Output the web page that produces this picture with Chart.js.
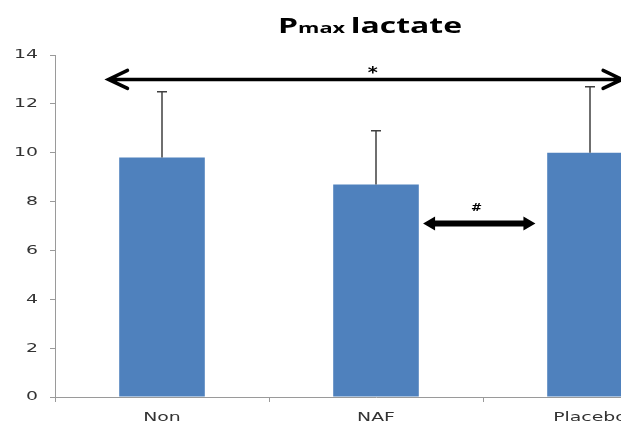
<!DOCTYPE html>
<html>
<head>
<meta charset="utf-8">
<script src="https://cdn.jsdelivr.net/npm/chart.js@4/dist/chart.umd.min.js"></script>
<style>
  html, body { margin: 0; padding: 0; background: #fff; overflow: hidden; }
  #wrap { width: 740px; height: 425px; }
</style>
</head>
<body>
<div id="wrap"><canvas id="chart"></canvas></div>
<script>
const groups = ["Non", "NAF", "Placebo"];
const lactate = [9.8, 8.7, 10.0];
const errTop = [12.5, 10.9, 12.7];
const yTicks = [0, 2, 4, 6, 8, 10, 12, 14];

// significance arrows, in axis units (x = category index)
const bigArrow = { from: -0.25, to: 2.15, y: 13, label: "*", labelX: 0.985, labelY: 13.22 };
const smallArrow = { from: 1.22, to: 1.745, y: 7.1, label: "#", labelX: 1.47, labelY: 7.75 };

// the source image is stretched sideways, so text is drawn wider than tall
function wideText(ctx, text, x, y, align, sx) {
    ctx.save();
    ctx.translate(x, y);
    ctx.scale(sx, 1);
    ctx.textAlign = align;
    ctx.fillText(text, 0, 0);
    ctx.restore();
}

const extras = {
    id: "extras",
    afterDraw(chart) {
        const ctx = chart.ctx;
        const x = chart.scales.x;
        const y = chart.scales.y;

        // error bars (upper only)
        ctx.save();
        ctx.strokeStyle = "#404040";
        ctx.lineWidth = 1.5;
        errTop.forEach((v, i) => {
            const px = x.getPixelForValue(i);
            ctx.beginPath();
            ctx.moveTo(px, y.getPixelForValue(lactate[i]));
            ctx.lineTo(px, y.getPixelForValue(v));
            ctx.moveTo(px - 5, y.getPixelForValue(v));
            ctx.lineTo(px + 5, y.getPixelForValue(v));
            ctx.stroke();
        });
        ctx.restore();

        // big open arrow
        ctx.save();
        ctx.strokeStyle = "#000";
        ctx.lineWidth = 3.5;
        ctx.lineCap = "round";
        const x1 = x.getPixelForValue(bigArrow.from);
        const x2 = x.getPixelForValue(bigArrow.to);
        const ay = y.getPixelForValue(bigArrow.y);
        ctx.beginPath();
        ctx.moveTo(x1, ay);
        ctx.lineTo(x2, ay);
        ctx.moveTo(x1 + 19, ay - 9);
        ctx.lineTo(x1, ay);
        ctx.lineTo(x1 + 19, ay + 9);
        ctx.moveTo(x2 - 19, ay - 9);
        ctx.lineTo(x2, ay);
        ctx.lineTo(x2 - 19, ay + 9);
        ctx.stroke();
        ctx.restore();

        // small thick filled arrow
        ctx.save();
        ctx.fillStyle = "#000";
        const s1 = x.getPixelForValue(smallArrow.from);
        const s2 = x.getPixelForValue(smallArrow.to);
        const sy = y.getPixelForValue(smallArrow.y);
        ctx.beginPath();
        ctx.moveTo(s1, sy);
        ctx.lineTo(s1 + 12, sy - 7);
        ctx.lineTo(s1 + 12, sy - 3);
        ctx.lineTo(s2 - 12, sy - 3);
        ctx.lineTo(s2 - 12, sy - 7);
        ctx.lineTo(s2, sy);
        ctx.lineTo(s2 - 12, sy + 7);
        ctx.lineTo(s2 - 12, sy + 3);
        ctx.lineTo(s1 + 12, sy + 3);
        ctx.lineTo(s1 + 12, sy + 7);
        ctx.closePath();
        ctx.fill();
        ctx.restore();

        // labels
        ctx.save();
        ctx.fillStyle = "#000";
        ctx.textBaseline = "middle";
        ctx.font = "bold 16px 'DejaVu Sans'";
        wideText(ctx, bigArrow.label, x.getPixelForValue(bigArrow.labelX), y.getPixelForValue(bigArrow.labelY), "center", 1.2);
        ctx.font = "bold 11px 'DejaVu Sans'";
        wideText(ctx, smallArrow.label, x.getPixelForValue(smallArrow.labelX), y.getPixelForValue(smallArrow.labelY), "center", 1.2);
        ctx.restore();

        // tick labels
        ctx.save();
        ctx.fillStyle = "#333";
        ctx.textBaseline = "middle";
        ctx.font = "13px 'DejaVu Sans'";
        yTicks.forEach(v => wideText(ctx, String(v), 38, y.getPixelForValue(v), "right", 1.45));
        groups.forEach((g, i) => wideText(ctx, g, x.getPixelForValue(i), 418, "center", 1.45));
        ctx.restore();

        // title with small "max"
        ctx.save();
        ctx.fillStyle = "#000";
        ctx.textBaseline = "alphabetic";
        const sx = 1.45;
        const big = "bold 22px 'Open Sans'";
        const small = "bold 15px 'Open Sans'";
        const parts = [["P", big], ["max ", small], ["lactate", big]];
        let total = 0;
        parts.forEach(p => { ctx.font = p[1]; total += ctx.measureText(p[0]).width * sx; });
        let tx = 370 - total / 2;
        parts.forEach(p => {
            ctx.font = p[1];
            wideText(ctx, p[0], tx, 33, "left", sx);
            tx += ctx.measureText(p[0]).width * sx;
        });
        ctx.restore();
    }
};

const data = {
    labels: groups,
    datasets: [
        {
            label: "Pmax lactate",
            data: lactate,
            backgroundColor: "#4F81BD",
            borderWidth: 0,
            categoryPercentage: 1.0,
            barPercentage: 0.4,
        },
    ],
};

const config = {
    type: "bar",
    data: data,
    plugins: [extras],
    options: {
        responsive: true,
        maintainAspectRatio: false,
        animation: false,
        layout: { padding: { top: 55, right: 43, left: 0, bottom: 0 } },
        plugins: { legend: { display: false }, title: { display: false }, tooltip: { enabled: false } },
        scales: {
            x: {
                afterFit: (s) => { s.height = 28; },
                grid: { display: true, drawOnChartArea: false, tickLength: 5, color: "#9a9a9a" },
                border: { color: "#9a9a9a", width: 1 },
                ticks: { color: "rgba(0,0,0,0)", font: { family: "'DejaVu Sans'", size: 13 }, padding: 8 },
            },
            y: {
                min: 0,
                max: 14,
                afterFit: (s) => { s.width = 55; },
                afterBuildTicks: (s) => { s.ticks = yTicks.map(v => ({ value: v })); },
                grid: { display: true, drawOnChartArea: false, tickLength: 5, color: "#9a9a9a" },
                border: { color: "#9a9a9a", width: 1 },
                ticks: { color: "rgba(0,0,0,0)", font: { family: "'DejaVu Sans'", size: 13 }, padding: 12 },
            },
        },
    },
};

const myChart = new Chart(document.getElementById("chart"), config);
</script>
</body>
</html>
